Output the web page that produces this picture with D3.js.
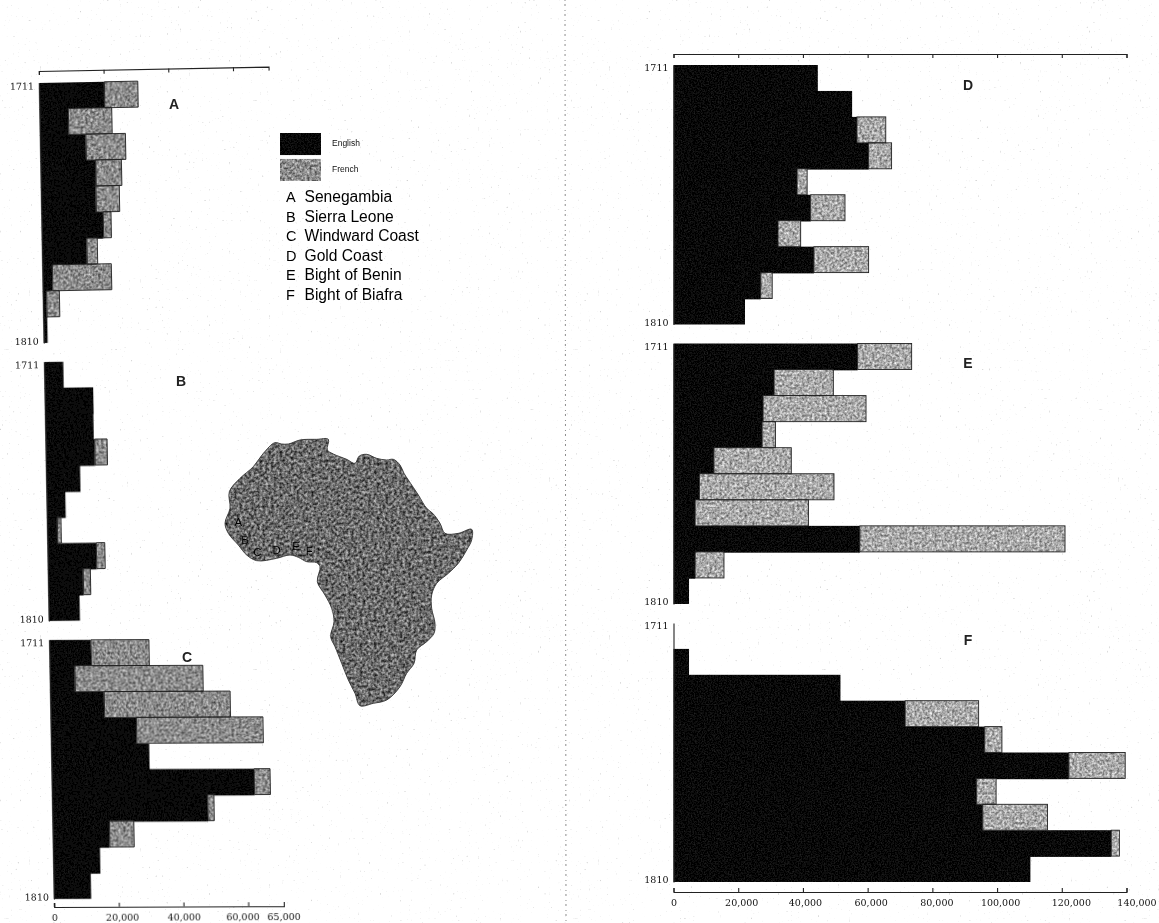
<!DOCTYPE html>
<html lang="en">

<head>
    <meta charset="UTF-8">
    <title>English and French slave exports by region, 1711-1810</title>
    <script src="https://cdn.jsdelivr.net/npm/d3@7/dist/d3.min.js"></script>
    <style>
        * {
            margin: 0;
        }

        body {
            background: #fff;
        }

        svg {
            display: block;
        }
    </style>
</head>

<body>
    <div id="chart"></div>
    <script>
        // 10 decades, top to bottom
        const decades = ['1711', '1721', '1731', '1741', '1751', '1761', '1771', '1781', '1791', '1801'];
        const yearLabels = ['1711', '1810'];
        const regionNames = ['Senegambia', 'Sierra Leone', 'Windward Coast', 'Gold Coast', 'Bight of Benin', 'Bight of Biafra'];
        const regionLetters = ['A', 'B', 'C', 'D', 'E', 'F'];
        const seriesNames = ['English', 'French'];

        const englishA = [20200, 8900, 14200, 17100, 17000, 19100, 13900, 3100, 1200, 1200];
        const frenchA = [10300, 13400, 12200, 7900, 7200, 2400, 3200, 18200, 3900, 0];
        const englishB = [5900, 15000, 14900, 15200, 10500, 5800, 3200, 15100, 10900, 9600];
        const frenchB = [0, 0, 0, 3800, 0, 0, 1100, 2600, 2200, 0];
        const englishC = [12900, 7800, 16700, 26500, 30300, 62600, 48100, 17600, 14500, 11500];
        const frenchC = [17900, 39500, 38900, 39100, 0, 4900, 1900, 7500, 0, 0];
        const englishD = [44600, 55200, 56700, 60300, 38200, 42400, 32300, 43400, 27000, 22100];
        const frenchD = [0, 0, 8900, 7100, 3100, 10600, 7000, 16900, 3500, 0];
        const englishE = [56900, 31100, 27700, 27400, 12500, 8000, 6700, 57600, 6700, 4800];
        const frenchE = [16700, 18300, 31800, 4100, 23900, 41600, 35000, 63400, 8900, 0];
        const englishF = [0, 4800, 51600, 71600, 96200, 122200, 93700, 95600, 135300, 110300];
        const frenchF = [0, 0, 0, 22700, 5300, 17400, 6000, 20000, 2500, 0];

        const leftTicks = [0, 20000, 40000, 60000];
        const rightTicks = [0, 20000, 40000, 60000, 80000, 100000, 120000, 140000];
        const leftEndLabel = '65,000';

        // map outline
        const africaOutline = [[195, 68], [215, 72], [235, 72], [270, 60], [320, 58], [355, 58], [352, 90], [370, 102], [410, 118], [435, 130], [448, 108], [470, 103], [500, 115], [530, 120], [550, 118], [570, 135], [582, 160], [595, 180], [625, 225], [650, 265], [668, 280], [690, 310], [705, 340], [745, 340], [785, 328], [785, 360], [770, 390], [745, 430], [715, 460], [680, 490], [665, 525], [665, 565], [675, 610], [672, 640], [650, 665], [620, 690], [612, 730], [590, 760], [570, 800], [530, 840], [490, 850], [450, 857], [435, 820], [415, 780], [395, 730], [375, 680], [362, 650], [372, 605], [365, 565], [345, 525], [322, 485], [330, 440], [320, 428], [290, 425], [265, 412], [240, 405], [200, 415], [140, 422], [110, 405], [85, 375], [55, 340], [45, 310], [60, 265], [58, 215], [90, 175], [130, 140], [160, 100]];
        const mapLetters = [[85, 305], [105, 360], [142, 395], [200, 390], [258, 378], [298, 392]];

        const width = 1159, height = 923;
        const numFont = '"DejaVu Serif", serif';
        const textFont = '"Liberation Sans", sans-serif';

        const svg = d3.select('#chart').append('svg')
            .attr('width', width)
            .attr('height', height);

        // grain filters: turbulence mapped to grey, clipped to the shape
        const defs = svg.append('defs');
        function grain(id, k, c, freq) {
            const f = defs.append('filter').attr('id', id)
                .attr('filterUnits', 'userSpaceOnUse')
                .attr('x', 0).attr('y', 0).attr('width', width).attr('height', height)
                .attr('color-interpolation-filters', 'sRGB');
            f.append('feTurbulence').attr('type', 'fractalNoise')
                .attr('baseFrequency', freq).attr('numOctaves', 2).attr('seed', 4).attr('result', 'n');
            f.append('feColorMatrix').attr('in', 'n').attr('type', 'matrix')
                .attr('values', `${k} 0 0 0 ${c} ${k} 0 0 0 ${c} ${k} 0 0 0 ${c} 0 0 0 0 1`)
                .attr('result', 'g');
            f.append('feComposite').attr('in', 'g').attr('in2', 'SourceAlpha').attr('operator', 'in');
        }
        grain('grainFrench', 0.9, 0.1, 0.4);
        grain('grainFrenchLight', 0.85, 0.24, 0.4);
        grain('grainMap', 1.0, -0.08, 0.35);
        grain('grainBlack', 0.3, -0.12, 0.7);

        // sparse specks on the paper
        const speck = defs.append('filter').attr('id', 'speck')
            .attr('filterUnits', 'userSpaceOnUse')
            .attr('x', 0).attr('y', 0).attr('width', width).attr('height', height)
            .attr('color-interpolation-filters', 'sRGB');
        speck.append('feTurbulence').attr('type', 'fractalNoise')
            .attr('baseFrequency', 0.45).attr('numOctaves', 1).attr('seed', 9);
        speck.append('feColorMatrix').attr('type', 'matrix')
            .attr('values', '0 0 0 0 0.55 0 0 0 0 0.55 0 0 0 0 0.55 7 0 0 0 -4.9');

        const soft = defs.append('filter').attr('id', 'soft')
            .attr('filterUnits', 'userSpaceOnUse')
            .attr('x', 0).attr('y', 0).attr('width', width).attr('height', height);
        soft.append('feGaussianBlur').attr('stdDeviation', 0.75);

        const page = svg.append('g').attr('filter', 'url(#soft)');
        page.append('rect').attr('width', width).attr('height', height).attr('fill', '#fff');
        page.append('rect').attr('width', width).attr('height', height).attr('filter', 'url(#speck)').attr('opacity', 0.4);

        // book fold
        page.append('line')
            .attr('x1', 565).attr('x2', 566).attr('y1', 0).attr('y2', height)
            .attr('stroke', '#8a8a8a').attr('stroke-width', 1).attr('stroke-dasharray', '1 3 2 4');

        // the left page was scanned crooked, the tilt fades toward the bottom
        function crooked(s) {
            const k = 0.0183;
            return page.append('g')
                .attr('transform', `matrix(1 ${-s} ${k} 1 ${-k * 490} ${s * 46.5})`);
        }
        const pageA = crooked(0.019);
        const pageB = crooked(0.012);
        const pageC = crooked(0.004);
        const rightPage = page.append('g');

        const leftX = d3.scaleLinear().domain([0, 71000]).range([46.5, 276.2]);
        const rightX = d3.scaleLinear().domain([0, 140000]).range([673.5, 1126.5]);
        const stack = d3.stack().keys(seriesNames);

        function drawPanel(g, x, top, bottom, english, french, frenchFilter) {
            const rows = decades.map((d, i) => ({ decade: d, English: english[i], French: french[i] }));
            const layers = stack(rows);
            const y = d3.scaleBand().domain(decades).range([top, bottom]);
            const bars = d => d.filter(s => s[1] > s[0]);

            g.append('g').attr('filter', 'url(#grainBlack)')
                .selectAll('rect').data(bars(layers[0])).join('rect')
                .attr('x', d => x(d[0]))
                .attr('y', d => y(d.data.decade))
                .attr('width', d => x(d[1]) - x(d[0]))
                .attr('height', (d, i, n) => y.bandwidth() + (i < n.length - 1 ? 0.8 : 0));

            const fr = bars(layers[1]);
            g.append('g').attr('filter', `url(#${frenchFilter})`)
                .selectAll('rect').data(fr).join('rect')
                .attr('x', d => x(d[0]))
                .attr('y', d => y(d.data.decade))
                .attr('width', d => x(d[1]) - x(d[0]))
                .attr('height', y.bandwidth());
            g.append('g')
                .selectAll('rect').data(fr).join('rect')
                .attr('x', d => x(d[0]))
                .attr('y', d => y(d.data.decade))
                .attr('width', d => x(d[1]) - x(d[0]))
                .attr('height', y.bandwidth())
                .attr('fill', 'none').attr('stroke', '#222').attr('stroke-width', 0.9);

            // year labels and left edge
            const years = d3.scalePoint().domain(yearLabels).range([top, bottom]);
            const yAxis = g.append('g')
                .attr('transform', `translate(${x(0)},0)`)
                .call(d3.axisLeft(years).tickSize(0).tickPadding(5));
            yAxis.select('.domain').attr('stroke', '#222').attr('stroke-width', 1.1);
            yAxis.selectAll('text')
                .attr('font-family', numFont).attr('font-size', 9.5).attr('fill', '#111');
            yAxis.selectAll('.tick').filter(d => d === '1711').select('text').attr('dy', '0.6em');
            yAxis.selectAll('.tick').filter(d => d === '1810').select('text').attr('dy', '0.1em');
        }

        function topAxis(g, x, ticks, yPos) {
            const a = g.append('g').attr('transform', `translate(0,${yPos})`)
                .call(d3.axisTop(x).tickValues(ticks).tickSize(-4).tickFormat(''));
            a.selectAll('path,line').attr('stroke', '#222').attr('stroke-width', 1.1);
        }

        function bottomAxis(g, x, ticks, yPos) {
            const a = g.append('g').attr('transform', `translate(0,${yPos})`)
                .call(d3.axisBottom(x).tickValues(ticks).tickSize(-4).tickFormat(d3.format(',')));
            a.selectAll('path,line').attr('stroke', '#222').attr('stroke-width', 1.1);
            a.selectAll('text')
                .attr('y', 7)
                .attr('font-family', numFont).attr('font-size', 9.5).attr('fill', '#111');
            return a;
        }

        drawPanel(pageA, leftX, 83, 343, englishA, frenchA, 'grainFrench');
        drawPanel(pageB, leftX, 362, 621, englishB, frenchB, 'grainFrench');
        drawPanel(pageC, leftX, 640, 899, englishC, frenchC, 'grainFrench');
        drawPanel(rightPage, rightX, 65, 324.5, englishD, frenchD, 'grainFrenchLight');
        drawPanel(rightPage, rightX, 343.5, 604, englishE, frenchE, 'grainFrenchLight');
        drawPanel(rightPage, rightX, 623, 882, englishF, frenchF, 'grainFrenchLight');

        topAxis(pageA, leftX, leftTicks, 71);
        topAxis(rightPage, rightX, rightTicks, 54);

        const leftBottom = bottomAxis(pageC, leftX, leftTicks, 907);
        leftBottom.append('text')
            .attr('x', leftX(71000))
            .attr('y', 7).attr('dy', '0.71em').attr('text-anchor', 'middle')
            .attr('font-family', numFont).attr('font-size', 9.5).attr('fill', '#111')
            .text(leftEndLabel);
        leftBottom.selectAll('.tick').filter(d => d === 60000).select('text').attr('dx', -6);
        leftBottom.selectAll('.tick').filter(d => d === 20000).select('text').attr('dx', 3);

        // bottom labels on the right drift off their ticks in the original
        const rightBottom = bottomAxis(rightPage, rightX, rightTicks, 892);
        const labelDrift = [0, 3, 2, 3, 4, 3, 9, 10];
        rightBottom.selectAll('.tick text').attr('dx', (d, i) => labelDrift[i]);

        // panel letters
        const panelLetterX = [174, 181, 187, 968, 968, 968];
        const panelLetterY = [104, 381, 657, 85, 363, 640];
        page.append('g').selectAll('text').data(regionLetters).join('text')
            .attr('x', (d, i) => panelLetterX[i])
            .attr('y', (d, i) => panelLetterY[i])
            .attr('dy', '0.35em').attr('text-anchor', 'middle')
            .attr('font-family', textFont).attr('font-size', 14).attr('font-weight', 'bold').attr('fill', '#222')
            .text(d => d);

        // legend
        const legend = page.append('g');
        const swatchY = d3.scaleBand().domain(seriesNames).range([133, 181]).paddingInner(0.15);
        legend.append('g').selectAll('rect').data(seriesNames).join('rect')
            .attr('x', 280).attr('y', d => swatchY(d))
            .attr('width', 41).attr('height', swatchY.bandwidth())
            .attr('filter', d => d === 'English' ? 'url(#grainBlack)' : 'url(#grainFrench)');
        legend.append('g').selectAll('text').data(seriesNames).join('text')
            .attr('x', 332).attr('y', d => swatchY(d) + swatchY.bandwidth() / 2 - 1)
            .attr('dy', '0.35em')
            .attr('font-family', textFont).attr('font-size', 8.5).attr('fill', '#111')
            .text(d => d);

        const keyY = d3.scalePoint().domain(regionNames).range([197, 294.5]);
        legend.append('g').selectAll('text').data(regionLetters).join('text')
            .attr('x', 286).attr('y', (d, i) => keyY(regionNames[i]))
            .attr('dy', '0.35em')
            .attr('font-family', textFont).attr('font-size', 14.5).attr('fill', '#000')
            .text(d => d);
        legend.append('g').selectAll('text').data(regionNames).join('text')
            .attr('x', 304.5).attr('y', d => keyY(d))
            .attr('dy', '0.35em')
            .attr('font-family', textFont).attr('font-size', 15.6).attr('fill', '#000')
            .text(d => d);

        // map of Africa, outline units are crop pixels at 3x
        const mapX = d3.scaleLinear().domain([0, 840]).range([210, 490]);
        const mapY = d3.scaleLinear().domain([0, 900]).range([420, 720]);
        const outline = d3.line().x(d => mapX(d[0])).y(d => mapY(d[1])).curve(d3.curveCatmullRomClosed.alpha(0.6));
        const map = page.append('g');
        map.append('path').attr('d', outline(africaOutline)).attr('filter', 'url(#grainMap)');
        map.append('path').attr('d', outline(africaOutline))
            .attr('fill', 'none').attr('stroke', '#333').attr('stroke-width', 0.9);
        map.append('g').selectAll('text').data(regionLetters).join('text')
            .attr('x', (d, i) => mapX(mapLetters[i][0]))
            .attr('y', (d, i) => mapY(mapLetters[i][1]))
            .attr('dy', '0.35em').attr('text-anchor', 'middle')
            .attr('font-family', textFont).attr('font-size', 11.5).attr('fill', '#000')
            .text(d => d);
    </script>
</body>

</html>
